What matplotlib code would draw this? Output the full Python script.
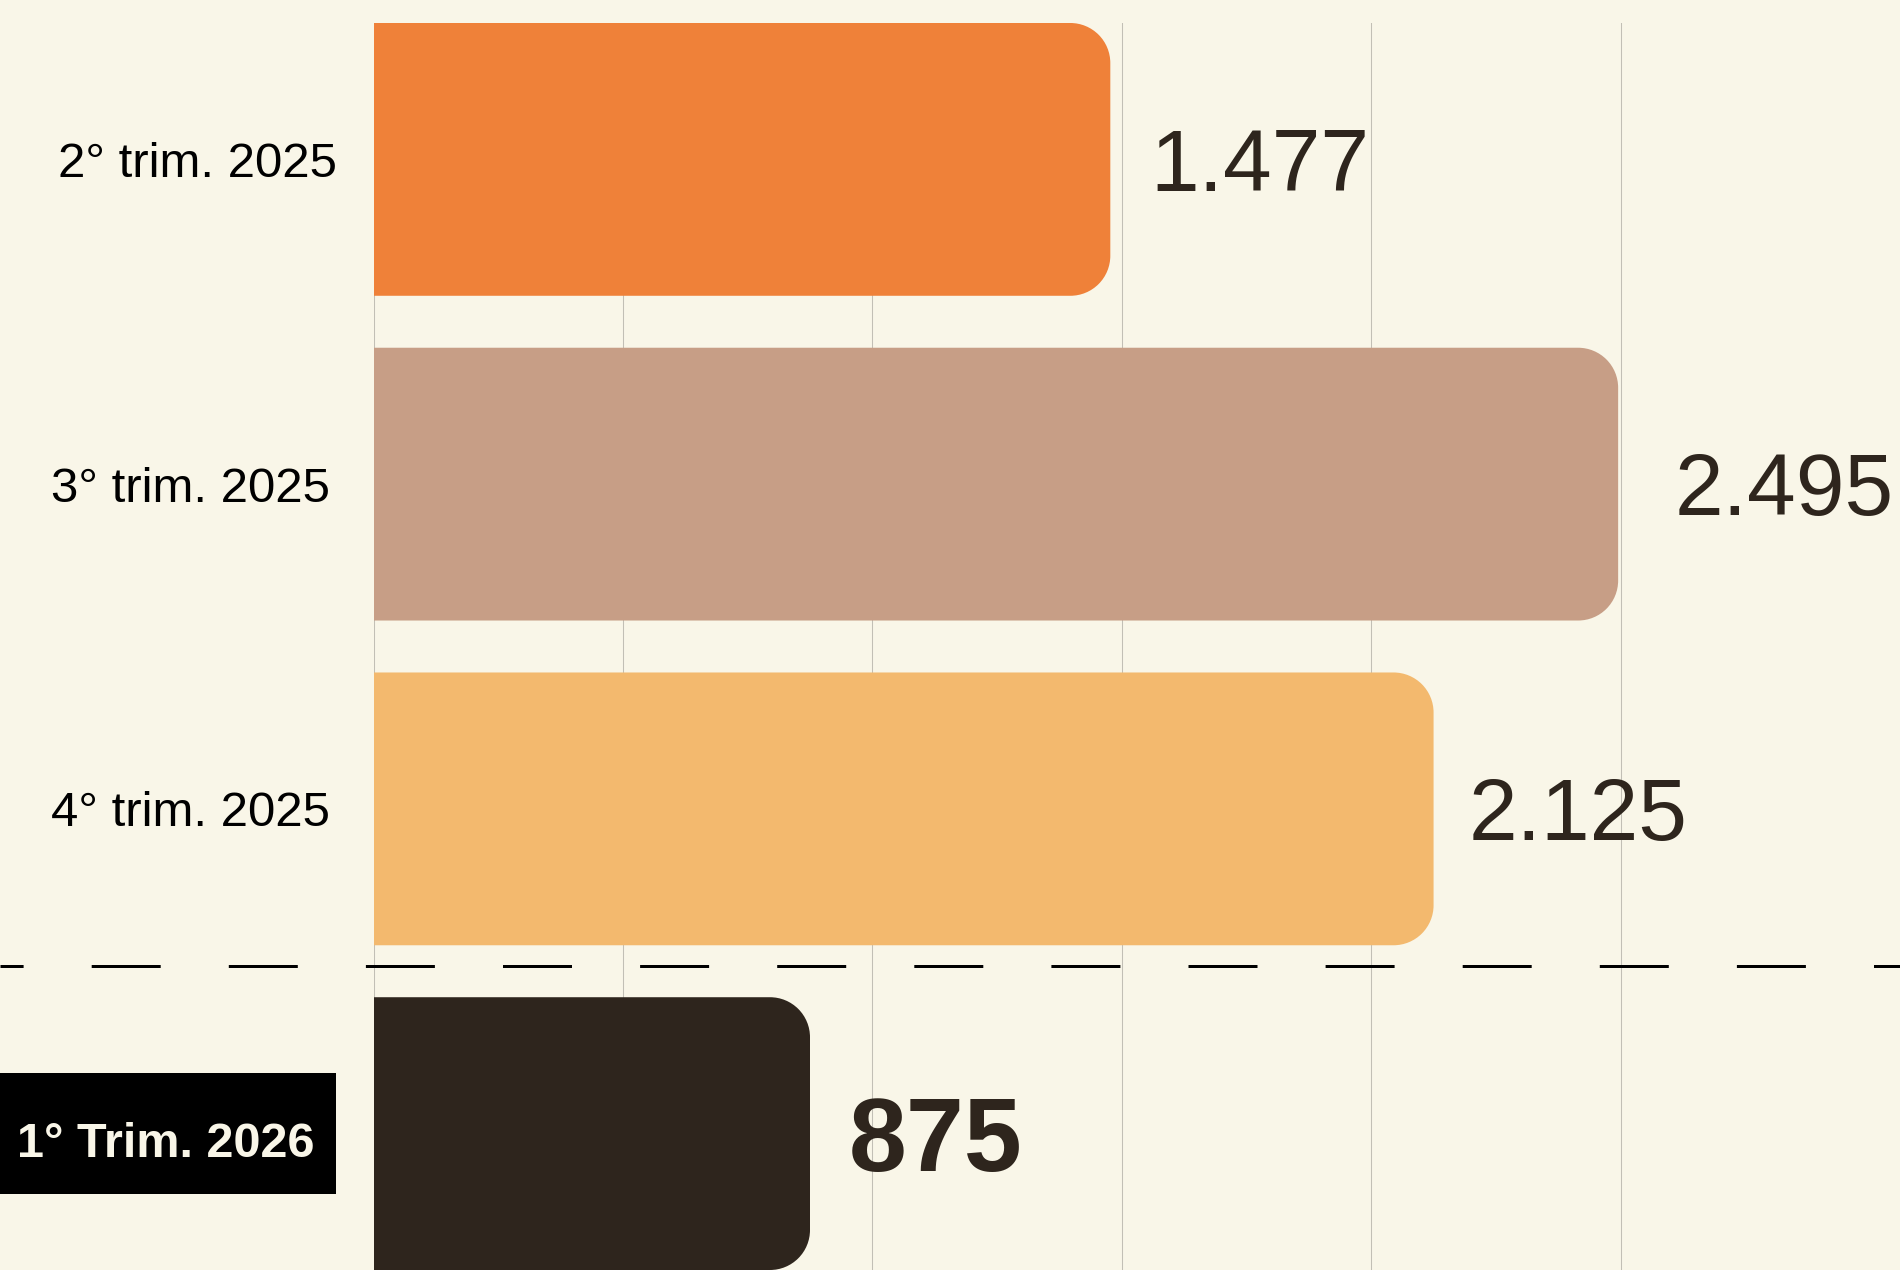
import numpy as np
import matplotlib.pyplot as plt
from matplotlib.patches import PathPatch, Rectangle
from matplotlib.path import Path
from matplotlib.transforms import blended_transform_factory

plt.rcParams['font.family'] = ['Liberation Sans', 'DejaVu Sans']

# ── data ──────────────────────────────────────────────────────────────────────
quarters = ["2° trim. 2025", "3° trim. 2025", "4° trim. 2025", "1° Trim. 2026"]
values = [1477, 2495, 2125, 875]
value_labels = ["1.477", "2.495", "2.125", "875"]
bar_colors = ["#EF8139", "#C79E86", "#F3B96E", "#2E251D"]
x_ticks = [0, 500, 1000, 1500, 2000, 2500]

# ── style ─────────────────────────────────────────────────────────────────────
BG = "#F9F6E8"
INK = "#2E251D"
GRID = "#C2BFB5"
PX = 0.72                      # points per pixel at dpi 100
bar_h = 0.84
x_max = 3060
label_pad_px = [40, 56, 35, 39]
label_size = [63, 63, 63, 75]
label_weight = ["normal", "normal", "normal", "bold"]
cat_pad_pt = [26, 31, 31]

fig = plt.figure(figsize=(19, 12.7), dpi=100, facecolor=BG)
ax = fig.add_axes([373.5 / 1900, 0.0, 1 - 373.5 / 1900, 1 - 23 / 1270])
ax.set_facecolor(BG)
ax.set_xlim(0, x_max)
ax.set_ylim(len(values) - 1 + bar_h / 2, -bar_h / 2)
ax.set_xticks(x_ticks)
ax.set_yticks([])
ax.tick_params(axis="x", length=0, labelbottom=False)
ax.grid(axis="x", color=GRID, lw=0.75)
ax.set_axisbelow(True)
for s in ax.spines.values():
    s.set_visible(False)

# bars with rounded right corners (40 px radius)
bb = ax.get_window_extent()
rx = 40 / (bb.width / x_max)
ry = 40 / (bb.height / (len(values) - 1 + bar_h))


def corner(cx, cy, t1, t2):
    arc = Path.arc(t1, t2)
    return arc.vertices[1:] * [rx, ry] + [cx, cy], list(arc.codes[1:])


def rounded_bar(v, y):
    y0, y1 = y - bar_h / 2, y + bar_h / 2
    verts = [(0, y0), (v - rx, y0)]
    codes = [Path.MOVETO, Path.LINETO]
    cv, cc = corner(v - rx, y0 + ry, -90, 0)
    verts += list(cv); codes += cc
    verts.append((v, y1 - ry)); codes.append(Path.LINETO)
    cv, cc = corner(v - rx, y1 - ry, 0, 90)
    verts += list(cv); codes += cc
    verts += [(0, y1), (0, y0)]
    codes += [Path.LINETO, Path.CLOSEPOLY]
    return Path(np.array(verts, float), codes)


for i, (v, c) in enumerate(zip(values, bar_colors)):
    ax.add_patch(PathPatch(rounded_bar(v, i), fc=c, ec="none", zorder=2))

# value labels
for i, (v, lab) in enumerate(zip(values, value_labels)):
    fs = label_size[i]
    ax.annotate(lab, xy=(v, i), xytext=(label_pad_px[i] * PX, -0.358 * fs),
                textcoords="offset points", ha="left", va="baseline",
                fontsize=fs, fontweight=label_weight[i], color=INK,
                annotation_clip=False)

# category labels
for i, q in enumerate(quarters[:-1]):
    ax.annotate(q, xy=(0, i), xytext=(-cat_pad_pt[i], -0.358 * 35.4),
                textcoords="offset points", ha="right", va="baseline",
                fontsize=35.4, color="black", annotation_clip=False)

# highlighted last quarter
last = len(quarters) - 1
tr = blended_transform_factory(fig.transFigure, ax.transData)
ax.add_patch(Rectangle((0, last - 0.186), 336 / 1900, 0.372, transform=tr,
                       fc="black", ec="none", clip_on=False, zorder=4))
ax.annotate(quarters[-1], xy=(0, last), xytext=(-42.5, -16.7),
            textcoords="offset points", ha="right", va="baseline",
            fontsize=35, fontweight="bold", color=BG,
            annotation_clip=False, zorder=5)

# dashed separator across the whole figure
ax.plot([0, 1], [last - 0.515, last - 0.515], transform=tr, color="black",
        lw=2.16, linestyle=(15.3, (23, 22.7)), clip_on=False, zorder=3)

fig.savefig("out.png", dpi=100, facecolor=BG)
